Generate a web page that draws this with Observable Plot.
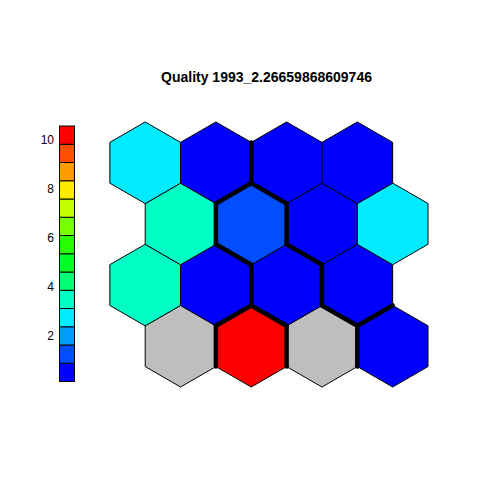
<!DOCTYPE html>
<html>
<head>
<meta charset="utf-8">
<script src="https://cdn.jsdelivr.net/npm/d3@7"></script>
<script src="https://cdn.jsdelivr.net/npm/@observablehq/plot@0.6"></script>
<style>
  html, body { margin: 0; padding: 0; background: #ffffff; }
  #chart { position: relative; width: 480px; height: 480px; }
  #chart svg { position: absolute; left: 0; top: 0; background: transparent; }
</style>
</head>
<body>
<div id="chart"></div>
<script>
// ---- data ----
const title = "Quality 1993_2.26659868609746";
const columns = [1, 2, 3, 4];
// values per grid row (row 1 = bottom, row 4 = top); null = empty unit (grey)
const row4 = [2.70, 0.35, 0.40, 0.30];
const row3 = [3.50, 1.20, 0.45, 2.70];
const row2 = [3.45, 0.30, 0.25, 0.40];
const row1 = [null, 10.57, null, 0.12];
const legendTicks = [2, 4, 6, 8, 10];
const palette = ["#0000FF", "#004EFF", "#009DFF", "#00EBFF", "#00FFC4", "#00FF76", "#00FF27",
                 "#27FF00", "#76FF00", "#C4FF00", "#FFEB00", "#FF9D00", "#FF4E00", "#FF0000"];
const naColor = "#BEBEBE";
// cluster boundaries: pairs of neighbouring units [col,row]
const boundaries = [
  [[2, 4], [3, 4]],
  [[2, 3], [2, 4]],
  [[2, 3], [3, 4]],
  [[2, 3], [1, 3]],
  [[2, 3], [3, 3]],
  [[2, 3], [2, 2]],
  [[2, 2], [3, 2]],
  [[3, 3], [3, 2]],
  [[3, 2], [4, 2]],
  [[4, 2], [3, 1]],
  [[4, 2], [4, 1]],
  [[2, 1], [2, 2]],
  [[2, 1], [3, 2]],
  [[2, 1], [1, 1]],
  [[2, 1], [3, 1]],
  [[3, 1], [4, 1]]
];

// ---- derived tables ----
const s3 = Math.sqrt(3);
const pos = ([c, r]) => [c + (r % 2 === 1 ? 0.5 : 0), (r - 1) * s3 / 2];
const rowsData = [[1, row1], [2, row2], [3, row3], [4, row4]];
const units = [];
for (const [r, vals] of rowsData) {
  columns.forEach((c, i) => {
    const [x, y] = pos([c, r]);
    units.push({col: c, row: r, x, y, value: vals[i]});
  });
}
const edges = boundaries.map(([a, b]) => {
  const [ax, ay] = pos(a), [bx, by] = pos(b);
  const mx = (ax + bx) / 2, my = (ay + by) / 2;
  const dx = bx - ax, dy = by - ay;
  const half = (1 / s3) / 2;
  return {x1: mx - dy * half, y1: my + dx * half, x2: mx + dy * half, y2: my - dx * half};
});

const vals = units.map(d => d.value).filter(v => v != null);
const [zmin, zmax] = d3.extent(vals);
const nb = palette.length;
const bw = (zmax - zmin) / nb;
const thresholds = d3.range(1, nb).map(i => zmin + i * bw);
const bins = d3.range(nb).map(i => ({lo: zmin + i * bw, hi: zmin + (i + 1) * bw, mid: zmin + (i + 0.5) * bw}));
const colorScale = {type: "threshold", domain: thresholds, range: palette};
const font = "'Liberation Sans', Arial, sans-serif";

// ---- hex map ----
const unit = 70.7;
const hexPlot = Plot.plot({
  width: 480, height: 480, margin: 0,
  style: {fontFamily: font, background: "transparent"},
  x: {domain: [1, 4.5], range: [144.7, 144.7 + 3.5 * unit], axis: null},
  y: {domain: [0, 3 * s3 / 2], range: [345.7, 345.7 - 3 * s3 / 2 * 70.6], axis: null},
  color: colorScale,
  marks: [
    Plot.hexagon(units.filter(d => d.value == null), {x: "x", y: "y", r: unit / 2, fill: naColor, stroke: "black", strokeWidth: 1}),
    Plot.hexagon(units.filter(d => d.value != null), {x: "x", y: "y", r: unit / 2, fill: "value", stroke: "black", strokeWidth: 1}),
    Plot.link(edges, {x1: "x1", y1: "y1", x2: "x2", y2: "y2", stroke: "black", strokeWidth: 4.5, strokeLinecap: "round"}),
    Plot.text([title], {frameAnchor: "top", dx: 26, dy: 77, text: d => d, fontWeight: "bold", fontSize: 14, fill: "black", lineAnchor: "middle"})
  ]
});

// ---- colour key ----
const keyPlot = Plot.plot({
  width: 480, height: 480, margin: 0,
  style: {fontFamily: font, background: "transparent"},
  x: {domain: [0, 1], range: [59.5, 74.5], axis: null},
  y: {domain: [zmin, zmax], range: [381.5, 126], axis: null},
  color: colorScale,
  marks: [
    Plot.rect(bins, {x1: 0, x2: 1, y1: "lo", y2: "hi", fill: "mid", stroke: "black", strokeWidth: 1}),
    Plot.text(legendTicks, {x: 0, y: d => d, text: d => String(d), textAnchor: "end", dx: -6, fontSize: 12, fill: "black"})
  ]
});

const el = document.getElementById("chart");
el.appendChild(hexPlot);
el.appendChild(keyPlot);
</script>
</body>
</html>
